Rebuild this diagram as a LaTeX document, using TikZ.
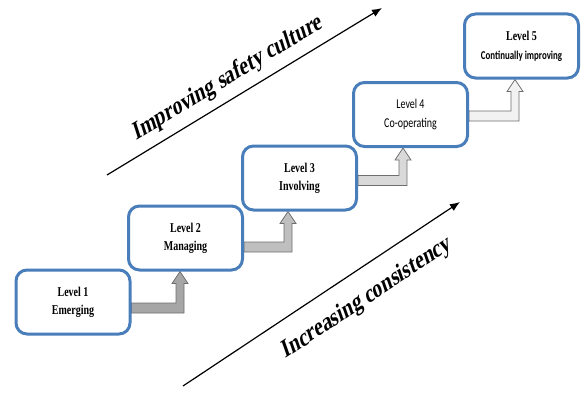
\documentclass[tikz,border=0pt]{standalone}
\usepackage{graphicx}
\usepackage{fontspec}
\setmainfont{Liberation Serif}
\newfontfamily\calib{Carlito}
\usetikzlibrary{calc,arrows.meta,backgrounds}
\definecolor{boxblue}{RGB}{74,126,187}
\definecolor{aedge}{RGB}{110,110,110}
\definecolor{afillA}{RGB}{166,166,166}
\definecolor{afillB}{RGB}{191,191,191}
\definecolor{afillC}{RGB}{217,217,217}
\definecolor{afillD}{RGB}{242,242,242}
\newcommand\cz[1]{\scalebox{0.74}[1]{#1}}
\newcommand\elbow[5]{%
  \draw[elbowstyle, fill=#5] let \p1=(#1.east), \p2=(#2.south) in
  (\x1,#4+5) -- (#3-4,#4+5) -- (#3-4,\y2-12pt) -- (#3-8,\y2-12pt) -- (#3,\y2)
  -- (#3+8,\y2-12pt) -- (#3+4,\y2-12pt) -- (#3+4,#4-5) -- (\x1,#4-5) -- cycle;}
\begin{document}
\begin{tikzpicture}[x=1pt,y=1pt,
  lvl/.style={draw=boxblue, line width=3pt, rounded corners=11pt, fill=white,
    minimum width=114pt, minimum height=64pt, inner sep=0pt, align=center},
  serifl/.style={font=\bfseries\fontsize{13.5}{18}\selectfont},
  elbowstyle/.style={draw=aedge, line width=0.8pt, line join=miter},
  bigarrow/.style={line width=1.2pt, -{Latex[length=10pt,width=8pt]}},
  trend/.style={font=\bfseries\fontsize{26.5}{30}\selectfont, inner sep=0pt, transform shape}]
\useasboundingbox (0,0) rectangle (584,392);
% level boxes
\node[lvl, serifl] (b1) at (73,90) {\cz{Level 1}\\\cz{Emerging}};
\node[lvl, serifl] (b2) at (185.5,154) {\cz{Level 2}\\\cz{Managing}};
\node[lvl, serifl] (b3) at (299.5,214) {\cz{Level 3}\\\cz{Involving}};
\node[lvl, font=\calib\fontsize{13.5}{19}\selectfont] (b4) at (410.5,277.5) {\cz{Level 4}\\\cz{Co-operating}};
\node[lvl, font=\bfseries\fontsize{13.5}{19}\selectfont] (b5) at (521.5,346) {\cz{Level 5}\\{\calib\bfseries\fontsize{12}{14}\selectfont\cz{Continually improving}}};
% elbow arrows
\begin{pgfonlayer}{background}
\elbow{b1}{b2}{180}{84}{afillA}
\elbow{b2}{b3}{288}{145}{afillB}
\elbow{b3}{b4}{403}{211.5}{afillC}
\elbow{b4}{b5}{515}{276}{afillD}
\end{pgfonlayer}
% trend arrows
\coordinate (u0) at (107,217);
\coordinate (u1) at (382,384);
\draw[bigarrow] (u0) -- (u1);
\coordinate (d0) at (183,6);
\coordinate (d1) at (460,190);
\draw[bigarrow] (d0) -- (d1);
\begin{scope}[shift={(228,314)}, xscale=0.73, rotate=23.7]
\node[trend] (t1) at (0,0) {Improving safety culture};
\end{scope}
\begin{scope}[shift={(367,94)}, xscale=0.73, rotate=25.9]
\node[trend] (t2) at (0,0) {Increasing consistency};
\end{scope}
\end{tikzpicture}
\end{document}
